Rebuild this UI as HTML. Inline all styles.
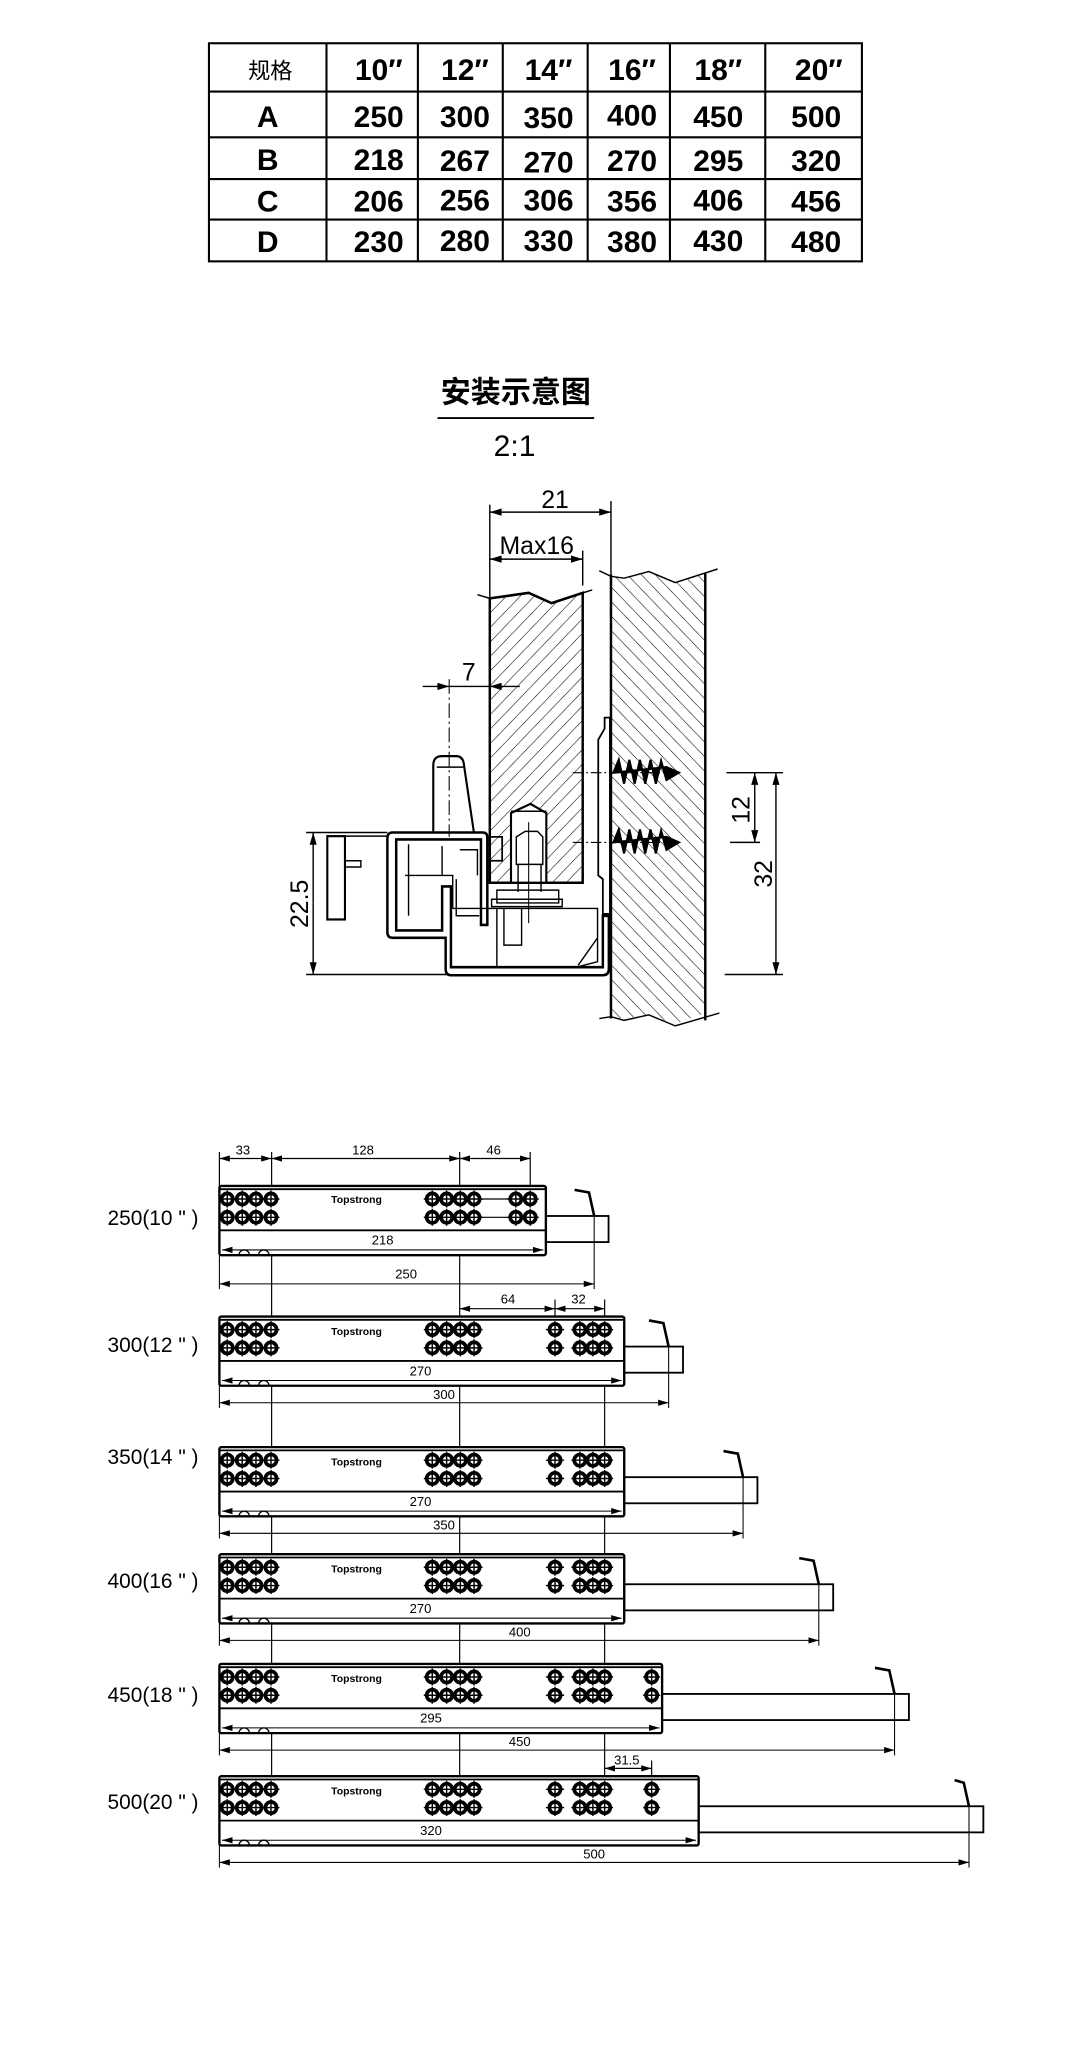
<!DOCTYPE html>
<html><head><meta charset="utf-8"><style>
html,body{margin:0;padding:0;background:#fff}
svg{display:block}
text{font-family:"Liberation Sans","Noto Sans CJK SC",sans-serif;fill:#000}
</style></head><body>
<svg width="1080" height="2065" viewBox="0 0 827 1581" xmlns="http://www.w3.org/2000/svg">
<defs>
<marker id="a" viewBox="0 0 10 6" refX="10" refY="3" markerWidth="8" markerHeight="5" orient="auto-start-reverse" markerUnits="userSpaceOnUse"><path d="M0 0L10 3L0 6z"/></marker>
<marker id="b" viewBox="0 0 10 6" refX="10" refY="3" markerWidth="40" markerHeight="20" orient="auto-start-reverse" markerUnits="userSpaceOnUse"><path d="M0 0L10 3L0 6z"/></marker>
<pattern id="hp" width="28" height="28" patternUnits="userSpaceOnUse" patternTransform="rotate(45)"><line x1="0" y1="0" x2="0" y2="28" stroke="#000" stroke-width="3"/></pattern>
<pattern id="hq" width="28" height="28" patternUnits="userSpaceOnUse" patternTransform="rotate(-45)"><line x1="0" y1="0" x2="0" y2="28" stroke="#000" stroke-width="3"/></pattern>
<g id="h"><circle r="4.3" fill="#fff" stroke="#000" stroke-width="2.8"/><path d="M-6.5 0H6.5M0-6.5V6.5" stroke="#000" stroke-width="1.1"/></g>
<g id="L"><use href="#h" x="174" y="10"/><use href="#h" x="185.5" y="10"/><use href="#h" x="196" y="10"/><use href="#h" x="207.5" y="10"/><use href="#h" x="174" y="24"/><use href="#h" x="185.5" y="24"/><use href="#h" x="196" y="24"/><use href="#h" x="207.5" y="24"/></g>
<g id="M"><use href="#h" x="331" y="10"/><use href="#h" x="342" y="10"/><use href="#h" x="352.5" y="10"/><use href="#h" x="363" y="10"/><use href="#h" x="331" y="24"/><use href="#h" x="342" y="24"/><use href="#h" x="352.5" y="24"/><use href="#h" x="363" y="24"/></g>
<g id="R"><path d="M418 10H432M418 24H432" stroke="#000" stroke-width="0.9"/><use href="#h" x="425" y="10"/><use href="#h" x="444" y="10"/><use href="#h" x="454" y="10"/><use href="#h" x="463" y="10"/><use href="#h" x="425" y="24"/><use href="#h" x="444" y="24"/><use href="#h" x="454" y="24"/><use href="#h" x="463" y="24"/></g>
<g id="X"><use href="#h" x="499" y="10"/><use href="#h" x="499" y="24"/></g>
</defs>

<!-- TABLE -->
<g stroke="#000" stroke-width="1.6" fill="none">
<rect x="160" y="33" width="500" height="167"/>
<path d="M250 33V200M320 33V200M385 33V200M450 33V200M513 33V200M586 33V200M160 70H660M160 105H660M160 137H660M160 168H660"/>
</g>
<g font-size="23" text-anchor="middle" font-weight="bold">
<text x="207" y="60" font-size="17" font-weight="normal" font-family="'Noto Sans CJK SC',sans-serif">规格</text>
<text x="290" y="61">10″</text><text x="356" y="61">12″</text><text x="420" y="61">14″</text><text x="484" y="61">16″</text><text x="550" y="61">18″</text><text x="627" y="61">20″</text>
<text x="205" y="97">A</text><text x="290" y="97">250</text><text x="356" y="97">300</text><text x="420" y="98">350</text><text x="484" y="96">400</text><text x="550" y="97">450</text><text x="625" y="97">500</text>
<text x="205" y="130">B</text><text x="290" y="130">218</text><text x="356" y="131">267</text><text x="420" y="132">270</text><text x="484" y="131">270</text><text x="550" y="131">295</text><text x="625" y="131">320</text>
<text x="205" y="162">C</text><text x="290" y="162">206</text><text x="356" y="161">256</text><text x="420" y="161">306</text><text x="484" y="162">356</text><text x="550" y="161">406</text><text x="625" y="162">456</text>
<text x="205" y="193">D</text><text x="290" y="193">230</text><text x="356" y="192">280</text><text x="420" y="192">330</text><text x="484" y="193">380</text><text x="550" y="192">430</text><text x="625" y="193">480</text>
</g>

<!-- TITLE -->
<text x="395" y="308" font-size="23" font-weight="bold" text-anchor="middle" font-family="'Noto Sans CJK SC',sans-serif">安装示意图</text>
<line x1="335" y1="320" x2="455" y2="320" stroke="#000" stroke-width="1.5"/>
<text x="394" y="349" font-size="23" text-anchor="middle">2:1</text>

<!-- INSTALL DETAIL -->
<g transform="translate(206,355.5) scale(0.2705,0.281)" fill="none" stroke="#000" stroke-width="4">
<path d="M625 110V365M968 100V300M888 235V330"/>
<line x1="625" y1="130" x2="968" y2="130" marker-start="url(#b)" marker-end="url(#b)"/>
<line x1="625" y1="258" x2="888" y2="258" marker-start="url(#b)" marker-end="url(#b)"/>
<path d="M625 365L735 350L800 378L888 350V1140H625Z" fill="url(#hp)" stroke-width="7"/>
<path d="M590 355L625 365M888 350L915 342" stroke-width="4"/>
<path d="M968 305L1005 310L1075 292L1150 322L1235 295V1495L1150 1525L1075 1500L1005 1510L968 1505Z" fill="url(#hq)" stroke="none"/>
<path d="M968 300V1510M1235 295V1515" stroke-width="7"/>
<path d="M935 290L968 305L1005 310L1075 292L1150 322L1270 285M935 1510L968 1505L1005 1515L1075 1500L1150 1530L1275 1495"/>
<path d="M950 690H965V1225H945V1130L932 1120V750L950 720Z" fill="#fff" stroke-width="5"/>
<g stroke-width="6" fill="#000">
<path d="M975 840L990 805L1005 870L1020 805L1035 870L1050 805L1065 870L1080 805L1095 870L1110 808L1125 860L1160 840L1125 825Z"/>
<path d="M975 1030L990 995L1005 1060L1020 995L1035 1060L1050 995L1065 1060L1080 995L1095 1060L1110 998L1125 1050L1160 1030L1125 1015Z"/>
</g>
<path d="M860 840H1160M860 1030H1160" stroke-dasharray="30 8 5 8" stroke-width="3"/>
<path d="M465 1003V820Q465 795 490 795H530Q550 795 552 820L580 1003" stroke-width="6"/>
<path d="M475 825H550"/>
<path d="M510 585V1015" stroke-dasharray="40 10 6 10" stroke-width="3"/>
<line x1="435" y1="605" x2="510" y2="605" marker-end="url(#b)"/>
<line x1="710" y1="605" x2="625" y2="605" marker-end="url(#b)"/>
<line x1="510" y1="605" x2="625" y2="605"/>
<path d="M350 1003H605Q618 1003 618 1016V1255H600V1022H360V1270H490V1150H515V1370H945V1230H962V1375Q962 1392 945 1392H515Q500 1392 500 1375V1290H350Q335 1290 335 1275V1018Q335 1003 350 1003Z" stroke-width="7"/>
<path d="M385 1120H520V1210M395 1035V1230M490 1040V1120M540 1050H590V1120M530 1130V1230H595"/>
<path d="M628 1015H660V1080H628" stroke-width="5"/>
<path d="M520 1210H930V1355L870 1370M645 1210V1370M930 1290L875 1365"/>
<path d="M665 1210V1310H715V1210"/>
<path d="M685 950L740 925L785 950V1140H685Z" fill="#fff" stroke-width="6"/>
<path d="M700 1015L725 1000L760 1000L775 1015V1090H700Z M705 1090V1165M770 1090V1165M685 945H785"/>
<path d="M645 1160H820V1195H645Z M630 1185H830V1205H630Z"/>
<path d="M735 975V1250" stroke-width="3"/>
<rect x="165" y="1013" width="50" height="227" stroke-width="6"/>
<path d="M215 1013H335M215 1080H260V1097H215"/>
<path d="M105 1003H335M105 1390H505"/>
<line x1="125" y1="1196" x2="125" y2="1003" marker-end="url(#b)"/>
<line x1="125" y1="1196" x2="125" y2="1390" marker-end="url(#b)"/>
<path d="M1295 840H1455M1305 1030H1390M1290 1390H1455"/>
<line x1="1375" y1="935" x2="1375" y2="840" marker-end="url(#b)"/>
<line x1="1375" y1="935" x2="1375" y2="1030" marker-end="url(#b)"/>
<line x1="1435" y1="1115" x2="1435" y2="840" marker-end="url(#b)"/>
<line x1="1435" y1="1115" x2="1435" y2="1390" marker-end="url(#b)"/>
</g>
<g font-size="19">
<text x="425" y="389" text-anchor="middle">21</text>
<text x="411" y="424" text-anchor="middle">Max16</text>
<text x="359" y="521" text-anchor="middle">7</text>
<text transform="translate(236,692) rotate(-90)" text-anchor="middle">22.5</text>
<text transform="translate(574,620) rotate(-90)" text-anchor="middle">12</text>
<text transform="translate(591,669) rotate(-90)" text-anchor="middle">32</text>
</g>

<!-- SLIDES -->
<g stroke="#000" stroke-width="0.9" fill="none">
<path d="M208 882V1412M352 882V1412M406 882V935M463 995V1385M168 882V908"/>
<line x1="168" y1="887" x2="208" y2="887" marker-start="url(#a)" marker-end="url(#a)"/>
<line x1="208" y1="887" x2="352" y2="887" marker-start="url(#a)" marker-end="url(#a)"/>
<line x1="352" y1="887" x2="406" y2="887" marker-start="url(#a)" marker-end="url(#a)"/>
<path d="M425 995V1015"/>
<line x1="352" y1="1002" x2="425" y2="1002" marker-start="url(#a)" marker-end="url(#a)"/>
<line x1="425" y1="1002" x2="463" y2="1002" marker-start="url(#a)" marker-end="url(#a)"/>
<path d="M499 1348V1365"/>
<line x1="463" y1="1354" x2="499" y2="1354" marker-start="url(#a)" marker-end="url(#a)"/>
</g>
<g font-size="10" text-anchor="middle">
<text x="186" y="884">33</text><text x="278" y="884">128</text><text x="378" y="884">46</text>
<text x="389" y="998">64</text><text x="443" y="998">32</text>
<text x="480" y="1351">31.5</text>
</g>

<g stroke="#000" fill="none">
<g transform="translate(0,908)">
<rect x="168" y="0" width="250" height="53" rx="1.5" stroke-width="1.8" fill="#fff"/>
<path d="M168 2.5H418M168 34H418" stroke-width="1.4"/>
<line x1="170" y1="49" x2="416" y2="49" stroke-width="0.8" marker-start="url(#a)" marker-end="url(#a)"/>
<path d="M183 53a4 4 0 0 1 8 0M198 53a4 4 0 0 1 8 0" stroke-width="1"/>
<path d="M363 10H395M363 24H395" stroke-width="0.9"/>
<use href="#L"/><use href="#M"/><use href="#h" x="395" y="10"/><use href="#h" x="406" y="10"/><use href="#h" x="395" y="24"/><use href="#h" x="406" y="24"/>
<rect x="418" y="23" width="48" height="20" stroke-width="1.4"/>
<path d="M440 3L451 5L455 23" stroke-width="2"/>
<path d="M455 23V79M168 53V79" stroke-width="0.8"/>
<line x1="168" y1="75" x2="455" y2="75" stroke-width="0.8" marker-start="url(#a)" marker-end="url(#a)"/>
</g>
<g transform="translate(0,1008)">
<rect x="168" y="0" width="310" height="53" rx="1.5" stroke-width="1.8" fill="#fff"/>
<path d="M168 2.5H478M168 34H478" stroke-width="1.4"/>
<line x1="170" y1="49" x2="476" y2="49" stroke-width="0.8" marker-start="url(#a)" marker-end="url(#a)"/>
<path d="M183 53a4 4 0 0 1 8 0M198 53a4 4 0 0 1 8 0" stroke-width="1"/>
<use href="#L"/><use href="#M"/><use href="#R"/>
<rect x="478" y="23" width="45" height="20" stroke-width="1.4"/>
<path d="M497 3L508 5L512 23" stroke-width="2"/>
<path d="M512 23V70M168 53V70" stroke-width="0.8"/>
<line x1="168" y1="66" x2="512" y2="66" stroke-width="0.8" marker-start="url(#a)" marker-end="url(#a)"/>
</g>
<g transform="translate(0,1108)">
<rect x="168" y="0" width="310" height="53" rx="1.5" stroke-width="1.8" fill="#fff"/>
<path d="M168 2.5H478M168 34H478" stroke-width="1.4"/>
<line x1="170" y1="49" x2="476" y2="49" stroke-width="0.8" marker-start="url(#a)" marker-end="url(#a)"/>
<path d="M183 53a4 4 0 0 1 8 0M198 53a4 4 0 0 1 8 0" stroke-width="1"/>
<use href="#L"/><use href="#M"/><use href="#R"/>
<rect x="478" y="23" width="102" height="20" stroke-width="1.4"/>
<path d="M554 3L565 5L569 23" stroke-width="2"/>
<path d="M569 23V70M168 53V70" stroke-width="0.8"/>
<line x1="168" y1="66" x2="569" y2="66" stroke-width="0.8" marker-start="url(#a)" marker-end="url(#a)"/>
</g>
<g transform="translate(0,1190)">
<rect x="168" y="0" width="310" height="53" rx="1.5" stroke-width="1.8" fill="#fff"/>
<path d="M168 2.5H478M168 34H478" stroke-width="1.4"/>
<line x1="170" y1="49" x2="476" y2="49" stroke-width="0.8" marker-start="url(#a)" marker-end="url(#a)"/>
<path d="M183 53a4 4 0 0 1 8 0M198 53a4 4 0 0 1 8 0" stroke-width="1"/>
<use href="#L"/><use href="#M"/><use href="#R"/>
<rect x="478" y="23" width="160" height="20" stroke-width="1.4"/>
<path d="M612 3L623 5L627 23" stroke-width="2"/>
<path d="M627 23V70M168 53V70" stroke-width="0.8"/>
<line x1="168" y1="66" x2="627" y2="66" stroke-width="0.8" marker-start="url(#a)" marker-end="url(#a)"/>
</g>
<g transform="translate(0,1274)">
<rect x="168" y="0" width="339" height="53" rx="1.5" stroke-width="1.8" fill="#fff"/>
<path d="M168 2.5H507M168 34H507" stroke-width="1.4"/>
<line x1="170" y1="49" x2="505" y2="49" stroke-width="0.8" marker-start="url(#a)" marker-end="url(#a)"/>
<path d="M183 53a4 4 0 0 1 8 0M198 53a4 4 0 0 1 8 0" stroke-width="1"/>
<use href="#L"/><use href="#M"/><use href="#R"/><use href="#X"/>
<rect x="507" y="23" width="189" height="20" stroke-width="1.4"/>
<path d="M670 3L681 5L685 23" stroke-width="2"/>
<path d="M685 23V70M168 53V70" stroke-width="0.8"/>
<line x1="168" y1="66" x2="685" y2="66" stroke-width="0.8" marker-start="url(#a)" marker-end="url(#a)"/>
</g>
<g transform="translate(0,1360)">
<rect x="168" y="0" width="367" height="53" rx="1.5" stroke-width="1.8" fill="#fff"/>
<path d="M168 2.5H535M168 34H535" stroke-width="1.4"/>
<line x1="170" y1="49" x2="533" y2="49" stroke-width="0.8" marker-start="url(#a)" marker-end="url(#a)"/>
<path d="M183 53a4 4 0 0 1 8 0M198 53a4 4 0 0 1 8 0" stroke-width="1"/>
<use href="#L"/><use href="#M"/><use href="#R"/><use href="#X"/>
<rect x="535" y="23" width="218" height="20" stroke-width="1.4"/>
<path d="M731 3L738 5L742 23" stroke-width="2"/>
<path d="M742 23V70M168 53V70" stroke-width="0.8"/>
<line x1="168" y1="66" x2="742" y2="66" stroke-width="0.8" marker-start="url(#a)" marker-end="url(#a)"/>
</g>
</g>
<g font-size="8" font-weight="bold" text-anchor="middle" font-family="'Liberation Serif',serif">
<text x="273" y="921">Topstrong</text><text x="273" y="1022">Topstrong</text><text x="273" y="1122">Topstrong</text><text x="273" y="1204">Topstrong</text><text x="273" y="1288">Topstrong</text><text x="273" y="1374">Topstrong</text>
</g>
<g font-size="10" text-anchor="middle">
<text x="293" y="953">218</text><text x="311" y="979">250</text>
<text x="322" y="1053">270</text><text x="340" y="1071">300</text>
<text x="322" y="1153">270</text><text x="340" y="1171">350</text>
<text x="322" y="1235">270</text><text x="398" y="1253">400</text>
<text x="330" y="1319">295</text><text x="398" y="1337">450</text>
<text x="330" y="1405">320</text><text x="455" y="1423">500</text>
</g>
<g font-size="16" text-anchor="end">
<text x="152" y="938">250(10 " )</text>
<text x="152" y="1035">300(12 " )</text>
<text x="152" y="1121">350(14 " )</text>
<text x="152" y="1216">400(16 " )</text>
<text x="152" y="1303">450(18 " )</text>
<text x="152" y="1385">500(20 " )</text>
</g>
</svg>
</body></html>
